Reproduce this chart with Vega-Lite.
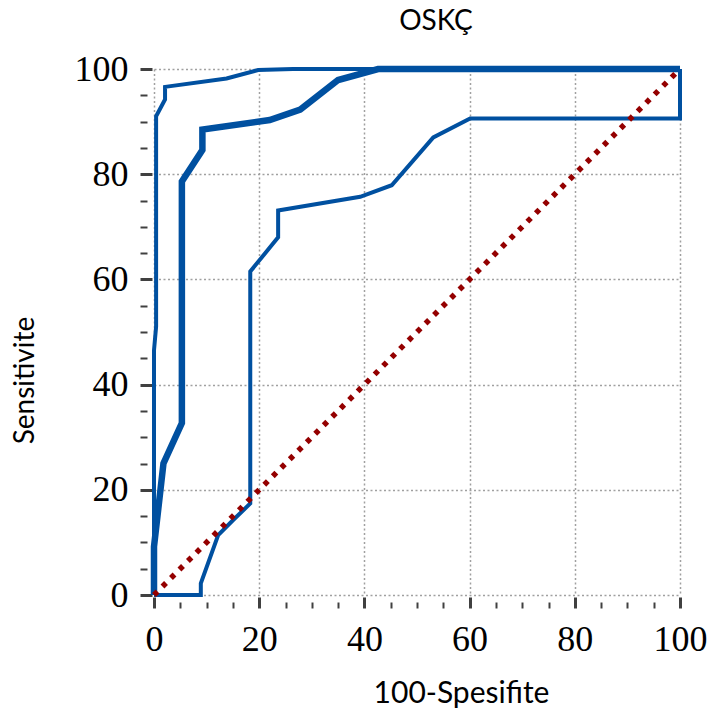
{
  "$schema": "https://vega.github.io/schema/vega-lite/v6.json",
  "width": 526,
  "height": 526,
  "autosize": "none",
  "padding": {"left": 154, "top": 69, "right": 30, "bottom": 118},
  "background": "white",
  "title": {
    "text": "OSKÇ",
    "font": "Lato",
    "fontSize": 28,
    "fontWeight": "normal",
    "color": "black",
    "anchor": "middle",
    "frame": "group",
    "baseline": "alphabetic",
    "offset": 20,
    "dy": 27,
    "dx": 19
  },
  "datasets": {
    "curves": [
      {"series": "lower", "i": 0, "x": 0, "y": 0},
      {"series": "lower", "i": 1, "x": 8.9, "y": 0},
      {"series": "lower", "i": 2, "x": 8.9, "y": 2.2},
      {"series": "lower", "i": 3, "x": 12.2, "y": 11.4},
      {"series": "lower", "i": 4, "x": 15.1, "y": 14.3},
      {"series": "lower", "i": 5, "x": 18.3, "y": 17.4},
      {"series": "lower", "i": 6, "x": 18.3, "y": 61.5},
      {"series": "lower", "i": 7, "x": 23.6, "y": 68},
      {"series": "lower", "i": 8, "x": 23.6, "y": 73.1},
      {"series": "lower", "i": 9, "x": 39.2, "y": 75.7},
      {"series": "lower", "i": 10, "x": 45.2, "y": 77.9},
      {"series": "lower", "i": 11, "x": 53.1, "y": 87},
      {"series": "lower", "i": 12, "x": 60.1, "y": 90.6},
      {"series": "lower", "i": 13, "x": 100, "y": 90.6},
      {"series": "lower", "i": 14, "x": 100, "y": 100},
      {"series": "upper", "i": 0, "x": 0, "y": 0},
      {"series": "upper", "i": 1, "x": 0, "y": 9},
      {"series": "upper", "i": 2, "x": 0, "y": 46.5},
      {"series": "upper", "i": 3, "x": 0.4, "y": 51},
      {"series": "upper", "i": 4, "x": 0.4, "y": 91},
      {"series": "upper", "i": 5, "x": 2.1, "y": 94.2},
      {"series": "upper", "i": 6, "x": 2.1, "y": 96.6},
      {"series": "upper", "i": 7, "x": 13.8, "y": 98.2},
      {"series": "upper", "i": 8, "x": 19.8, "y": 99.8},
      {"series": "upper", "i": 9, "x": 26.4, "y": 100},
      {"series": "upper", "i": 10, "x": 100, "y": 100},
      {"series": "roc", "i": 0, "x": 0, "y": 0},
      {"series": "roc", "i": 1, "x": 0, "y": 9.2},
      {"series": "roc", "i": 2, "x": 1.8, "y": 25},
      {"series": "roc", "i": 3, "x": 5.3, "y": 32.7},
      {"series": "roc", "i": 4, "x": 5.3, "y": 78.6},
      {"series": "roc", "i": 5, "x": 9.2, "y": 84.6},
      {"series": "roc", "i": 6, "x": 9.2, "y": 88.5},
      {"series": "roc", "i": 7, "x": 22, "y": 90.3},
      {"series": "roc", "i": 8, "x": 27.8, "y": 92.3},
      {"series": "roc", "i": 9, "x": 35, "y": 97.9},
      {"series": "roc", "i": 10, "x": 42.6, "y": 100},
      {"series": "roc", "i": 11, "x": 100, "y": 100}
    ],
    "diag": [
      {"i": 0, "x": 0, "y": 0},
      {"i": 1, "x": 100, "y": 100}
    ]
  },
  "layer": [
    {
      "data": {"name": "curves"},
      "transform": [{"filter": "datum.series === 'lower'"}],
      "mark": {"type": "line", "color": "#0050a0", "strokeWidth": 4},
      "encoding": {
        "x": {
          "field": "x", "type": "quantitative",
          "scale": {"domain": [0, 100], "nice": false},
          "axis": {
            "orient": "bottom",
            "values": [0, 20, 40, 60, 80, 100],
            "domain": false,
            "grid": true,
            "gridColor": "#a0a0a0",
            "gridDash": [2, 2.5],
            "gridWidth": 1.5,
            "tickColor": "#404040",
            "tickWidth": 3,
            "tickSize": 11,
            "offset": 2,
            "labelFont": "Liberation Serif",
            "labelFontSize": 36,
            "labelColor": "black",
            "labelPadding": 14,
            "labelFlush": false,
            "labelOverlap": false,
            "title": "100-Spesifite",
            "titleFont": "Lato",
            "titleFontSize": 30,
            "titleFontWeight": "normal",
            "titleColor": "black",
            "titleX": 307,
            "titleY": 105,
            "titleAlign": "center",
            "titleBaseline": "alphabetic"
          }
        },
        "y": {
          "field": "y", "type": "quantitative",
          "scale": {"domain": [0, 100], "nice": false},
          "axis": {
            "orient": "left",
            "values": [0, 20, 40, 60, 80, 100],
            "domain": false,
            "grid": true,
            "gridColor": "#a0a0a0",
            "gridDash": [2, 2.5],
            "gridWidth": 1.5,
            "tickColor": "#404040",
            "tickWidth": 3,
            "tickSize": 12,
            "offset": 2,
            "labelFont": "Liberation Serif",
            "labelFontSize": 36,
            "labelColor": "black",
            "labelPadding": 12,
            "labelFlush": false,
            "labelOverlap": false,
            "title": "Sensitivite",
            "titleFont": "Lato",
            "titleFontSize": 28,
            "titleFontWeight": "normal",
            "titleColor": "black",
            "titleAngle": -90,
            "titleX": -119,
            "titleY": 311,
            "titleAlign": "center",
            "titleBaseline": "alphabetic"
          }
        },
        "order": {"field": "i", "type": "quantitative"}
      }
    },
    {
      "data": {"name": "curves"},
      "transform": [{"filter": "datum.series === 'upper'"}],
      "mark": {"type": "line", "color": "#0050a0", "strokeWidth": 4},
      "encoding": {
        "x": {
          "field": "x", "type": "quantitative",
          "scale": {"domain": [0, 100], "nice": false},
          "axis": {
            "orient": "bottom",
            "values": [5, 10, 15, 25, 30, 35, 45, 50, 55, 65, 70, 75, 85, 90, 95],
            "domain": false,
            "grid": false,
            "labels": false,
            "title": null,
            "tickColor": "#404040",
            "tickWidth": 2,
            "tickSize": 6,
            "offset": 7
          }
        },
        "y": {
          "field": "y", "type": "quantitative",
          "scale": {"domain": [0, 100], "nice": false},
          "axis": {
            "orient": "left",
            "values": [5, 10, 15, 25, 30, 35, 45, 50, 55, 65, 70, 75, 85, 90, 95],
            "domain": false,
            "grid": false,
            "labels": false,
            "title": null,
            "tickColor": "#404040",
            "tickWidth": 2,
            "tickSize": 7,
            "offset": 7
          }
        },
        "order": {"field": "i", "type": "quantitative"}
      }
    },
    {
      "data": {"name": "curves"},
      "transform": [{"filter": "datum.series === 'roc'"}],
      "mark": {"type": "line", "color": "#0050a0", "strokeWidth": 6.5},
      "encoding": {
        "x": {"field": "x", "type": "quantitative", "scale": {"domain": [0, 100], "nice": false}, "axis": null},
        "y": {"field": "y", "type": "quantitative", "scale": {"domain": [0, 100], "nice": false}, "axis": null},
        "order": {"field": "i", "type": "quantitative"}
      }
    },
    {
      "data": {"name": "diag"},
      "mark": {"type": "line", "color": "#940000", "strokeWidth": 5.5, "strokeDash": [5, 7], "strokeCap": "butt"},
      "encoding": {
        "x": {"field": "x", "type": "quantitative", "scale": {"domain": [0, 100], "nice": false}, "axis": null},
        "y": {"field": "y", "type": "quantitative", "scale": {"domain": [0, 100], "nice": false}, "axis": null},
        "order": {"field": "i", "type": "quantitative"}
      }
    }
  ],
  "resolve": {"axis": {"x": "independent", "y": "independent"}},
  "config": {"view": {"stroke": null}}
}
